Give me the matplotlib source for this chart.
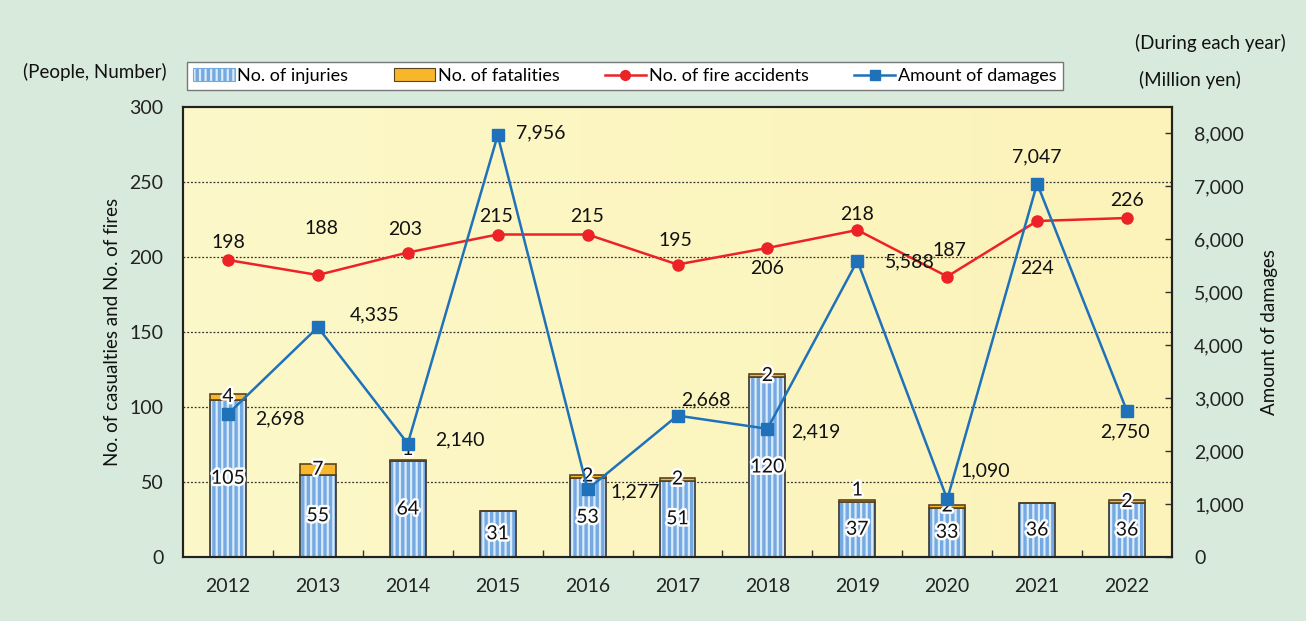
import matplotlib
matplotlib.use("Agg")
import matplotlib.pyplot as plt
import matplotlib.patheffects as pe
from matplotlib.patches import Patch
from matplotlib.lines import Line2D
from matplotlib.colors import LinearSegmentedColormap
import numpy as np

plt.rcParams['font.family'] = ['Lato', 'DejaVu Sans']
plt.rcParams['hatch.linewidth'] = 2.4

years = ['2012', '2013', '2014', '2015', '2016', '2017', '2018', '2019', '2020', '2021', '2022']
injuries = [105, 55, 64, 31, 53, 51, 120, 37, 33, 36, 36]
fatalities = [4, 7, 1, 0, 2, 2, 2, 1, 2, 0, 2]
fires = [198, 188, 203, 215, 215, 195, 206, 218, 187, 224, 226]
damages = [2698, 4335, 2140, 7956, 1277, 2668, 2419, 5588, 1090, 7047, 2750]

# label offsets in pixels (dx, dy up-positive)
fire_off = [(0, 18), (4, 46), (-3, 23), (-2, 18), (-1, 18), (-2, 24), (0, -20), (0, 16), (2, 26), (0, -47), (0, 17)]
dmg_off = [(52, -5), (57, 12), (52, 4), (43, 2), (48, -3), (28, 16), (48, -3), (53, -1), (38, 28), (0, 27), (-2, -21)]

W, H = 1306, 621
fig = plt.figure(figsize=(W / 100, H / 100), dpi=100)
fig.patch.set_facecolor('#d7eadb')

L, R, T, B = 183, 1172, 107, 557
ax = fig.add_axes([L / W, 1 - B / H, (R - L) / W, (B - T) / H])
ax.set_facecolor('#fcf5bf')

grad = np.linspace(0, 1, 256).reshape(1, -1)
cmap = LinearSegmentedColormap.from_list('g', ['#fdf8c9', '#fbf3b9'])
ax.imshow(grad, extent=[0, 1, 0, 1], transform=ax.transAxes, cmap=cmap, aspect='auto', zorder=0)

x = np.arange(len(years))
bw = 0.4
inj = np.array(injuries)
fat = np.array(fatalities)

ax.bar(x, inj, bw, color='#d9eafa', edgecolor='#74a9e1', hatch='|||', linewidth=0, zorder=2)
ax.bar(x, inj, bw, color='none', edgecolor='#333333', linewidth=1.2, zorder=3)
ax.bar(x, fat, bw, bottom=inj, color='#f8b62a', edgecolor='#5a4320', linewidth=1.2, zorder=3)

for yv in [50, 100, 150, 200, 250]:
    ax.axhline(yv, color='#333333', linestyle=(0, (1.5, 1.5)), linewidth=0.9, zorder=1)

ax.set_xlim(-0.5, len(years) - 0.5)
ax.set_ylim(0, 300)
ax.set_yticks([0, 50, 100, 150, 200, 250, 300])
ax.tick_params(axis='y', length=0, pad=14, labelsize=14, colors='#222222')
ax.set_xticks(x)
ax.set_xticklabels(years)
ax.tick_params(axis='x', which='major', length=0, pad=15, labelsize=14, colors='#222222')
ax.set_xticks(np.arange(0.5, len(years) - 1, 1), minor=True)
ax.tick_params(axis='x', which='minor', direction='in', length=5, width=1, color='#333333')
for s in ax.spines.values():
    s.set_color('#222222')
    s.set_linewidth(1.5)
ax.set_ylabel('No. of casualties and No. of fires', fontsize=13.5, labelpad=6, color='#111111')

ax.plot(x, fires, color='#ec2227', linewidth=1.8, marker='o', markersize=8, zorder=5)

ax2 = ax.twinx()
ax2.set_ylim(0, 8000 * 450 / 424)
ax2.set_yticks(range(0, 8001, 1000))
ax2.set_yticklabels([f'{v:,}' for v in range(0, 8001, 1000)])
ax2.tick_params(axis='y', direction='in', length=5, width=1, pad=16, labelsize=14, colors='#222222')
ax2.tick_params(axis='y', color='#333333')
for s in ax2.spines.values():
    s.set_color('#222222')
    s.set_linewidth(1.5)
ax2.set_ylabel('Amount of damages', fontsize=13.5, labelpad=12, color='#111111')
ax2.plot(x, damages, color='#1f72ba', linewidth=1.8, marker='s', markersize=8.5, zorder=6)

glow = [pe.withStroke(linewidth=3.5, foreground='white')]
px2pt = 72 / 100

for i in range(len(years)):
    ax.annotate(str(injuries[i]), (x[i], injuries[i] / 2), ha='center', va='center',
                fontsize=14, color='#111111', path_effects=glow, zorder=8)
    if fatalities[i] > 0:
        if fatalities[i] == 1:
            ax.annotate(str(fatalities[i]), (x[i], injuries[i] + fatalities[i]), xytext=(0, 10 * px2pt),
                        textcoords='offset points', ha='center', va='center', fontsize=14,
                        color='#111111', path_effects=glow, zorder=8)
        else:
            ax.annotate(str(fatalities[i]), (x[i], injuries[i] + fatalities[i] / 2), ha='center', va='center',
                        fontsize=14, color='#111111', path_effects=glow, zorder=8)
    dx, dy = fire_off[i]
    ax.annotate(str(fires[i]), (x[i], fires[i]), xytext=(dx * px2pt, dy * px2pt), textcoords='offset points',
                ha='center', va='center', fontsize=14, color='#111111', zorder=8)
    dx, dy = dmg_off[i]
    ax2.annotate(f'{damages[i]:,}', (x[i], damages[i]), xytext=(dx * px2pt, dy * px2pt), textcoords='offset points',
                 ha='center', va='center', fontsize=14, color='#111111', zorder=8)

ax.set_zorder(1)
ax2.set_zorder(2)
ax2.patch.set_visible(False)

handles = [
    Patch(facecolor='#d9eafa', edgecolor='#74a9e1', hatch='|||', linewidth=0.8),
    Patch(facecolor='#f8b62a', edgecolor='#5a4320', linewidth=0.8),
    Line2D([], [], color='#ec2227', linewidth=1.8, marker='o', markersize=7),
    Line2D([], [], color='#1f72ba', linewidth=1.8, marker='s', markersize=7),
]
labels = ['No. of injuries', 'No. of fatalities', 'No. of fire accidents', 'Amount of damages']
leg = fig.legend(handles, labels, ncol=4, loc='center',
                 bbox_to_anchor=(625 / W, 1 - 76 / H), frameon=True, fancybox=False,
                 edgecolor='#777777', facecolor='white', framealpha=1, fontsize=13,
                 handlelength=2.3, handletextpad=0.15, columnspacing=2.5, borderpad=0.35)
leg.get_frame().set_linewidth(1.0)

fig.text(95 / W, 1 - 72 / H, '(People, Number)', ha='center', va='center', fontsize=13.5, color='#111111')
fig.text(1210 / W, 1 - 43 / H, '(During each year)', ha='center', va='center', fontsize=13.5, color='#111111')
fig.text(1190 / W, 1 - 80 / H, '(Million yen)', ha='center', va='center', fontsize=13.5, color='#111111')

fig.savefig('out.png', dpi=100, facecolor=fig.get_facecolor())
